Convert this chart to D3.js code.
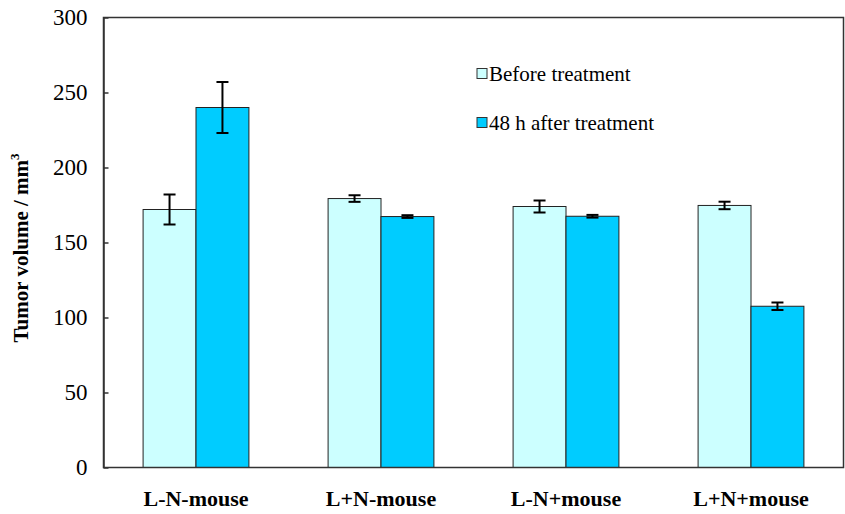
<!DOCTYPE html>
<html>
<head>
<meta charset="utf-8">
<script src="https://cdn.jsdelivr.net/npm/d3@7"></script>
<style>
  html, body { margin: 0; padding: 0; background: #fff; }
  svg { display: block; }
  svg text { font-family: "Liberation Serif", Tinos, "Times New Roman", "DejaVu Serif", serif; fill: #000; }
</style>
</head>
<body>
<svg id="chart" width="845" height="514"></svg>
<script>
// Tumour volume per mouse group, before and 48 h after treatment
const categories = ["L-N-mouse", "L+N-mouse", "L-N+mouse", "L+N+mouse"];
const seriesNames = ["Before treatment", "48 h after treatment"];
const beforeValues = [172, 179.3, 174, 174.7];
const beforeErrors = [10, 2.2, 4, 2.5];
const afterValues = [240, 167.3, 167.5, 107.5];
const afterErrors = [17, 0.9, 0.9, 2.5];
const yTicks = [0, 50, 100, 150, 200, 250, 300];
const colors = ["#CCFFFF", "#00CCFF"];

const SERIF = '"Liberation Serif", Tinos, "Times New Roman", "DejaVu Serif", serif';

const svg = d3.select("#chart");
const margin = { left: 103.5, right: 1.5, top: 17.5, bottom: 46.5 };
const W = 845, H = 514;
const x0 = margin.left, x1 = W - margin.right;
const y0 = H - margin.bottom, y1 = margin.top;

const x = d3.scaleBand().domain(categories).range([x0, x1]).paddingInner(0).paddingOuter(0);
const groupFrac = 0.572;
const xs = d3.scaleBand().domain(seriesNames)
  .range([0, x.bandwidth() * groupFrac]);
const y = d3.scaleLinear().domain([0, 300]).range([y0, y1]);

const rows = categories.map((c, i) => [
  { cat: c, s: seriesNames[0], v: beforeValues[i], e: beforeErrors[i], k: 0 },
  { cat: c, s: seriesNames[1], v: afterValues[i], e: afterErrors[i], k: 1 }
]);

// bars
const groups = svg.append("g").selectAll("g").data(rows).join("g")
  .attr("transform", d => `translate(${x(d[0].cat) + x.bandwidth() * (1 - groupFrac) / 2},0)`);

groups.selectAll("rect").data(d => d).join("rect")
  .attr("x", d => xs(d.s))
  .attr("y", d => y(d.v))
  .attr("width", xs.bandwidth())
  .attr("height", d => y(0) - y(d.v))
  .attr("fill", d => colors[d.k])
  .attr("stroke", "#222")
  .attr("stroke-width", 1);

// error bars
const eb = groups.selectAll("g.err").data(d => d).join("g").attr("class", "err");
const cx = d => xs(d.s) + xs.bandwidth() / 2;
eb.append("line")
  .attr("x1", cx).attr("x2", cx)
  .attr("y1", d => y(d.v + d.e)).attr("y2", d => y(d.v - d.e))
  .attr("stroke", "#000").attr("stroke-width", 2);
eb.append("line")
  .attr("x1", d => cx(d) - 6).attr("x2", d => cx(d) + 6)
  .attr("y1", d => y(d.v + d.e)).attr("y2", d => y(d.v + d.e))
  .attr("stroke", "#000").attr("stroke-width", 2);
eb.append("line")
  .attr("x1", d => cx(d) - 6).attr("x2", d => cx(d) + 6)
  .attr("y1", d => y(d.v - d.e)).attr("y2", d => y(d.v - d.e))
  .attr("stroke", "#000").attr("stroke-width", 2);

// frame
svg.append("rect")
  .attr("x", x0).attr("y", y1)
  .attr("width", x1 - x0).attr("height", y0 - y1)
  .attr("fill", "none").attr("stroke", "#333").attr("stroke-width", 1.5);

// y axis with inward ticks
const yAxis = d3.axisLeft(y).tickValues(yTicks).tickSizeInner(-5).tickSizeOuter(0).tickPadding(16);
const ya = svg.append("g").attr("transform", `translate(${x0},0)`).call(yAxis)
  .attr("font-family", null).attr("font-size", null);
ya.select(".domain").attr("stroke", "#333").attr("stroke-width", 1.5);
ya.selectAll(".tick line").attr("stroke", "#333").attr("stroke-width", 1.5);
ya.selectAll(".tick text").style("font-family", SERIF).style("font-size", "23px").attr("fill", "#000");

// x category labels
const xAxis = d3.axisBottom(x).tickSize(0).tickPadding(23);
const xa = svg.append("g").attr("transform", `translate(0,${y0})`).call(xAxis)
  .attr("font-family", null).attr("font-size", null);
xa.select(".domain").remove();
xa.selectAll(".tick text").style("font-family", SERIF).style("font-size", "22px")
  .style("font-weight", "bold").attr("fill", "#000");

// y title
const yt = svg.append("text")
  .attr("transform", "translate(28,248) rotate(-90)")
  .attr("text-anchor", "middle")
  .style("font-family", SERIF).style("font-size", "21px").style("font-weight", "bold");
yt.append("tspan").text("Tumor volume / mm");
yt.append("tspan").attr("dy", -9).style("font-size", "13px").text("3");

// legend
const leg = svg.append("g").attr("transform", "translate(477,0)");
const legY = [74, 123];
seriesNames.forEach((s, i) => {
  leg.append("rect").attr("x", 0).attr("y", legY[i] - 5.5).attr("width", 10).attr("height", 10)
    .attr("fill", colors[i]).attr("stroke", "#333").attr("stroke-width", 1);
  leg.append("text").attr("x", 12).attr("y", legY[i]).attr("dy", "0.35em")
    .style("font-family", SERIF).style("font-size", "21px").text(s);
});
</script>
</body>
</html>
